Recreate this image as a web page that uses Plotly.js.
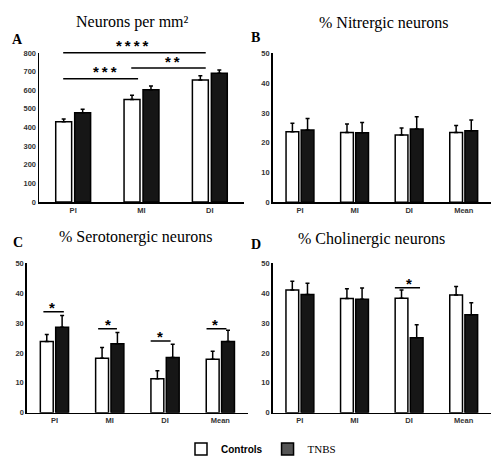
<!DOCTYPE html>
<html><head><meta charset="utf-8">
<script src="https://cdn.plot.ly/plotly-3.0.1.min.js"></script>
<style>html,body{margin:0;padding:0;background:#fff}</style>
</head><body><div id="chart" style="width:500px;height:464px"></div>
<script>
// ---- data ----
const catsA = ['PI', 'MI', 'DI'];
const cats = ['PI', 'MI', 'DI', 'Mean'];

const neuronsCtrl = [431, 551, 655];
const neuronsCtrlErr = [15, 22, 23];
const neuronsTnbs = [479, 603, 691];
const neuronsTnbsErr = [19, 20, 18];

const nitrCtrl = [23.7, 23.4, 22.6, 23.4];
const nitrCtrlErr = [2.8, 2.9, 2.3, 2.4];
const nitrTnbs = [24.3, 23.3, 24.6, 24.0];
const nitrTnbsErr = [3.8, 3.5, 4.1, 3.6];

const seroCtrl = [23.8, 18.2, 11.4, 17.9];
const seroCtrlErr = [2.4, 3.6, 2.6, 2.7];
const seroTnbs = [28.6, 23.1, 18.5, 23.8];
const seroTnbsErr = [3.9, 3.7, 4.4, 3.8];

const cholCtrl = [41.1, 38.2, 38.3, 39.4];
const cholCtrlErr = [2.9, 3.3, 2.8, 2.8];
const cholTnbs = [39.6, 38.0, 25.1, 32.8];
const cholTnbsErr = [3.7, 3.7, 4.3, 4.0];

const seriesNames = ['Controls', 'TNBS'];
const titles = ['Neurons per mm\u00b2', '% Nitrergic neurons', '% Serotonergic neurons', '% Cholinergic neurons'];
const letters = ['A', 'B', 'C', 'D'];

// significance brackets: [panel, x0, x1, yLine, label, xText, yText]
const S = '\u2009';
const brackets = [
  ['A', -0.146, 1.94, 801, ['*','*','*','*'].join(S), 0.87, 840],
  ['A', -0.146, 0.95, 662, ['*','*','*'].join(S), 0.47, 698],
  ['A', 0.85, 1.94, 720, ['*','*'].join(S), 1.45, 757],
  ['C', -0.2, 0.17, 33.8, '*', -0.04, 35.3],
  ['C', 0.79, 1.13, 28.1, '*', 0.97, 29.6],
  ['C', 1.74, 2.10, 24.0, '*', 1.9, 25.5],
  ['C', 2.75, 3.11, 28.1, '*', 2.91, 29.6],
  ['D', 1.74, 2.20, 41.8, '*', 1.99, 43.3]
];

// ---- layout geometry (pixels) ----
const W = 500, H = 464;
const panels = {
  A: {xa: 'x', ya: 'y', px: [39, 244], py: [202, 53], yr: [0, 800], dt: 100, cats: catsA, c: neuronsCtrl, ce: neuronsCtrlErr, t: neuronsTnbs, te: neuronsTnbsErr, title: [132, 22], letter: [17, 39]},
  B: {xa: 'x2', ya: 'y2', px: [272.7, 491], py: [202.3, 53.3], yr: [0, 50], dt: 10, cats: cats, c: nitrCtrl, ce: nitrCtrlErr, t: nitrTnbs, te: nitrTnbsErr, title: [383, 23], letter: [255, 38]},
  C: {xa: 'x3', ya: 'y3', px: [26.8, 248], py: [412.7, 263.3], yr: [0, 50], dt: 10, cats: cats, c: seroCtrl, ce: seroCtrlErr, t: seroTnbs, te: seroTnbsErr, title: [135, 237], letter: [18, 243]},
  D: {xa: 'x4', ya: 'y4', px: [272.6, 491], py: [412.7, 263.3], yr: [0, 50], dt: 10, cats: cats, c: cholCtrl, ce: cholCtrlErr, t: cholTnbs, te: cholTnbsErr, title: [371, 239], letter: [256, 244]}
};

const tickFont = {family: 'Liberation Sans, Arial, sans-serif', size: 7.5, color: '#333', weight: 'bold'};
const serif = 'Liberation Serif';
const zeros = n => n.map(() => 0);

const data = [];
const layout = {
  width: W, height: H,
  margin: {l: 0, r: 0, t: 0, b: 0},
  paper_bgcolor: '#fff', plot_bgcolor: 'rgba(0,0,0,0)',
  barmode: 'group', bargap: 0.445, bargroupgap: 0.16,
  showlegend: true,
  legend: {orientation: 'h', x: 0.522, xanchor: 'center', y: 1 - 449 / H, yanchor: 'middle',
           font: {family: serif, size: 11, color: '#000'}, itemwidth: 30, tracegroupgap: 0,
           bgcolor: 'rgba(0,0,0,0)'},
  shapes: [], annotations: []
};

// data-y -> paper-y helper (brackets sit above the plot area)
function yPaper(p, v) {
  const pix = p.py[0] + (p.py[1] - p.py[0]) * (v - p.yr[0]) / (p.yr[1] - p.yr[0]);
  return 1 - pix / H;
}

Object.keys(panels).forEach((k, i) => {
  const p = panels[k];
  const xs = p.xa === 'x' ? '' : p.xa.slice(1);
  layout['xaxis' + xs] = {
    domain: [p.px[0] / W, p.px[1] / W], anchor: p.ya, type: 'category',
    range: [-0.5, p.cats.length - 0.5], showline: true, linecolor: '#000', linewidth: 1.5,
    ticks: '', showgrid: false, zeroline: false, tickfont: tickFont, fixedrange: true
  };
  layout['yaxis' + xs] = {
    domain: [1 - p.py[0] / H, 1 - p.py[1] / H], anchor: p.xa, range: p.yr, dtick: p.dt,
    showline: true, linecolor: '#000', linewidth: 1.5, ticks: '', showgrid: false, zeroline: false,
    tickfont: tickFont, fixedrange: true
  };
  data.push({
    type: 'bar', name: seriesNames[0], x: p.cats, y: p.c, xaxis: p.xa, yaxis: p.ya, showlegend: false,
    marker: {color: '#fff', line: {color: '#000', width: 1.5}},
    error_y: {type: 'data', array: p.ce, arrayminus: zeros(p.ce), symmetric: false, color: '#000', thickness: 1.5, width: 2}
  });
  data.push({
    type: 'bar', name: seriesNames[1], x: p.cats, y: p.t, xaxis: p.xa, yaxis: p.ya, showlegend: false,
    marker: {color: '#161616', line: {color: '#000', width: 1.5}},
    error_y: {type: 'data', array: p.te, arrayminus: zeros(p.te), symmetric: false, color: '#000', thickness: 1.5, width: 2}
  });
  layout.annotations.push({
    xref: 'paper', yref: 'paper', x: p.title[0] / W, y: 1 - p.title[1] / H, xanchor: 'center', yanchor: 'middle',
    text: titles[i], showarrow: false, font: {family: serif, size: 16, color: '#000'}
  });
  layout.annotations.push({
    xref: 'paper', yref: 'paper', x: p.letter[0] / W, y: 1 - p.letter[1] / H, xanchor: 'center', yanchor: 'middle',
    text: letters[i], showarrow: false, font: {family: serif, size: 14, color: '#000', weight: 'bold'}
  });
});

brackets.forEach(b => {
  const p = panels[b[0]];
  layout.shapes.push({type: 'line', xref: p.xa, yref: 'paper', x0: b[1], x1: b[2], y0: yPaper(p, b[3]), y1: yPaper(p, b[3]),
    line: {color: '#000', width: 1.5}});
  layout.annotations.push({xref: p.xa, yref: 'paper', x: b[5], y: yPaper(p, b[6]), text: b[4], showarrow: false,
    xanchor: 'center', yanchor: 'middle', font: {family: 'Liberation Sans, Arial, sans-serif', size: 15, color: '#000', weight: 'bold'}});
});

// legend entries on a hidden helper subplot
layout.xaxis5 = {domain: [0, 0.01], visible: false, anchor: 'y5', fixedrange: true};
layout.yaxis5 = {domain: [0, 0.01], visible: false, anchor: 'x5', fixedrange: true};
data.push({type: 'bar', name: '<span style="font-family:Liberation Sans, Arial, sans-serif;font-weight:bold;font-size:10px">' + seriesNames[0] + '</span>',
  x: [null], y: [null], xaxis: 'x5', yaxis: 'y5', marker: {color: '#fff', line: {color: '#000', width: 1.5}}});
data.push({type: 'bar', name: seriesNames[1], x: [null], y: [null], xaxis: 'x5', yaxis: 'y5',
  marker: {color: '#555', line: {color: '#000', width: 1.5}}});

Plotly.newPlot('chart', data, layout, {displayModeBar: false, staticPlot: true});
</script>
</body></html>
